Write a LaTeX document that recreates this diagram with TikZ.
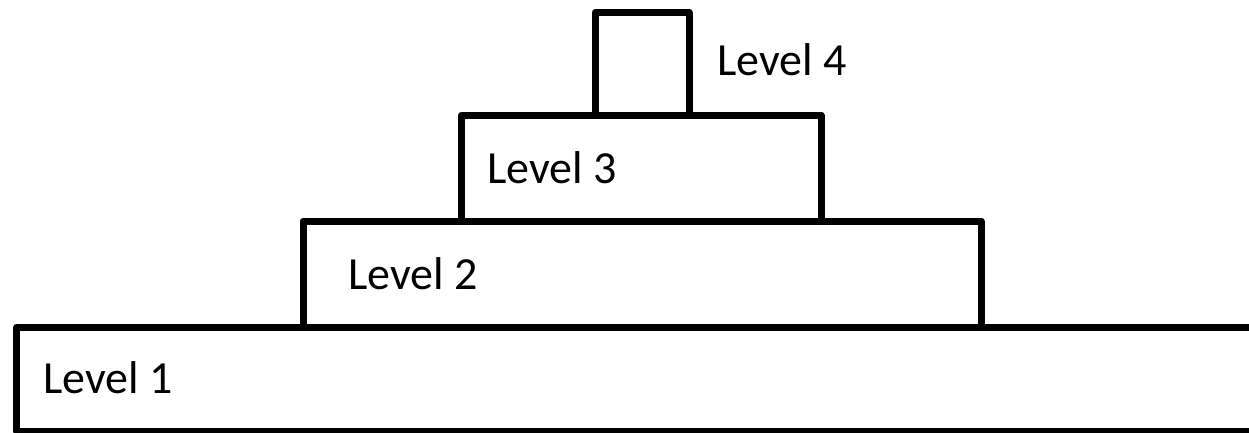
\documentclass[tikz,border=0pt]{standalone}
\usepackage{fontspec}
\setmainfont{Carlito}
\begin{document}
\begin{tikzpicture}[x=1pt,y=-1pt,
  tier/.style={draw=black,line width=7pt,line join=round,fill=white},
  lab/.style={anchor=base west,inner sep=0pt,font=\fontsize{46}{55}\selectfont}]
\useasboundingbox (0,0) rectangle (1249,432);
\clip (0,0) rectangle (1249,432);
\draw[tier] (16.5,327.5) rectangle (1320,431);
\draw[tier] (303,221) rectangle (981,327.5);
\draw[tier] (461.5,115) rectangle (821,221);
\draw[tier] (595,12.5) rectangle (689,115);
\node[lab] (l1) at (43,393) {Level 1};
\node[lab] (l2) at (348,289) {Level 2};
\node[lab] (l3) at (487,183) {Level 3};
\node[lab] (l4) at (717,75) {Level 4};
\end{tikzpicture}
\end{document}
